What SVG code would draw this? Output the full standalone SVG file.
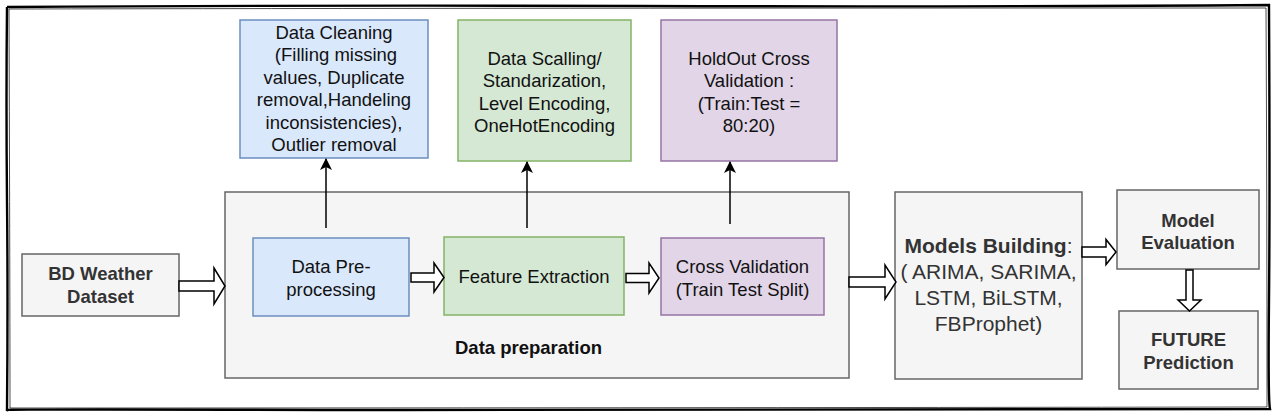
<svg xmlns="http://www.w3.org/2000/svg" width="1280" height="420" viewBox="0 0 1280 420">
<defs>
<marker id="ah" markerUnits="userSpaceOnUse" markerWidth="12" markerHeight="12" viewBox="0 0 12 12" refX="11" refY="6" orient="auto">
<path d="M0,0 L12,6 L0,12 L3,6 Z" fill="#000"/>
</marker>
</defs>
<style>
text{font-family:"Liberation Sans",Arial,sans-serif;text-anchor:middle}
.t{font-size:18.5px;fill:#111}
.b{font-size:18.5px;font-weight:bold;fill:#333}
.blue{fill:#dae8fc;stroke:#6c8ebf;stroke-width:1.5}
.green{fill:#d5e8d4;stroke:#82b366;stroke-width:1.5}
.purple{fill:#e1d5e7;stroke:#9673a6;stroke-width:1.5}
.gray{fill:#f5f5f5;stroke:#666;stroke-width:1.5}
.thin{stroke:#000;stroke-width:1.5;fill:none;marker-end:url(#ah)}
.block{fill:#fff;stroke:#000;stroke-width:1.5;stroke-linejoin:miter}
</style>
<rect width="1280" height="420" fill="#fff"/>
<g id="border" fill="none" stroke="#000">
<path d="M7,7 Q300,5 640,6 T1269,5 Q1270,200 1269,300 T1270,409 Q800,411 400,410 T7,410 Q8,300 7,200 T7,7" stroke-width="2.4"/>
<path d="M9,9 Q500,8 1266,8 Q1267,200 1267,407 Q600,408 10,408 Q10,300 9,9" stroke-width="1" stroke-opacity="0.7"/>
</g>
<g id="data-preparation">
<rect class="gray" x="225" y="192" width="624" height="186"/>
<text x="528.5" y="353.5" style="font-size:18.5px;font-weight:bold;fill:#111">Data preparation</text>
</g>
<g id="data-cleaning">
<rect class="blue" x="240" y="20" width="188" height="138"/>
<text class="t" x="334"><tspan x="334" y="38.5">Data Cleaning</tspan><tspan x="336" y="61">(Filling missing</tspan><tspan x="334" y="83.5">values, Duplicate</tspan><tspan x="334" y="106">removal,Handeling</tspan><tspan x="334" y="128.5">inconsistencies),</tspan><tspan x="334" y="151">Outlier removal</tspan></text>
</g>
<g id="data-scalling">
<rect class="green" x="458" y="20" width="173" height="141"/>
<text class="t"><tspan x="544.5" y="64.5">Data Scalling/</tspan><tspan x="544.5" y="87">Standarization,</tspan><tspan x="544.5" y="109.5">Level Encoding,</tspan><tspan x="544.5" y="132">OneHotEncoding</tspan></text>
</g>
<g id="holdout">
<rect class="purple" x="661" y="20" width="176" height="141"/>
<text class="t"><tspan x="749" y="64.5">HoldOut Cross</tspan><tspan x="749" y="87">Validation :</tspan><tspan x="749" y="109.5">(Train:Test =</tspan><tspan x="749" y="132">80:20)</tspan></text>
</g>
<g id="bd-weather">
<rect class="gray" x="22" y="254" width="157" height="62"/>
<text class="b"><tspan x="100.5" y="279.5">BD Weather</tspan><tspan x="100.5" y="303">Dataset</tspan></text>
</g>
<g id="pre-processing">
<rect class="blue" x="253" y="238" width="156" height="78"/>
<text class="t"><tspan x="331" y="272.5">Data Pre-</tspan><tspan x="331" y="295.5">processing</tspan></text>
</g>
<g id="feature-extraction">
<rect class="green" x="444" y="237" width="180" height="78"/>
<text class="t" x="534" y="282.5">Feature Extraction</text>
</g>
<g id="cross-validation">
<rect class="purple" x="661" y="238" width="163" height="77"/>
<text class="t"><tspan x="742.5" y="272.5">Cross Validation</tspan><tspan x="742.5" y="295.5">(Train Test Split)</tspan></text>
</g>
<g id="models-building">
<rect class="gray" x="895" y="192" width="187" height="187"/>
<text style="font-size:21px;fill:#333"><tspan x="988.5" y="253"><tspan font-weight="bold">Models Building</tspan>:</tspan><tspan x="988.5" y="279">( ARIMA, SARIMA,</tspan><tspan x="988.5" y="305">LSTM, BiLSTM,</tspan><tspan x="988.5" y="331">FBProphet)</tspan></text>
</g>
<g id="model-evaluation">
<rect class="gray" x="1117" y="190" width="142" height="79"/>
<text class="b"><tspan x="1188" y="226.5">Model</tspan><tspan x="1188" y="248.5">Evaluation</tspan></text>
</g>
<g id="future-prediction">
<rect class="gray" x="1119" y="311" width="139" height="78"/>
<text class="b"><tspan x="1188.5" y="345.5">FUTURE</tspan><tspan x="1188.5" y="368.5">Prediction</tspan></text>
</g>
<g id="connectors">
<line class="thin" x1="326" y1="228" x2="326" y2="159"/>
<line class="thin" x1="527" y1="228" x2="527" y2="162"/>
<line class="thin" x1="730" y1="224" x2="730" y2="162"/>
<polygon class="block" points="179,281 214,281 214,268 225,286 214,304 214,291 179,291"/>
<polygon class="block" points="411,273 434,273 434,263 444,277.5 434,292 434,282 411,282"/>
<polygon class="block" points="626,273.5 649,273.5 649,263 659,278 649,293 649,282.5 626,282.5"/>
<polygon class="block" points="849,277 885,277 885,265 896,282 885,299 885,287 849,287"/>
<polygon class="block" points="1082,247 1106,247 1106,239.5 1116,252 1106,264.5 1106,257 1082,257"/>
<polygon class="block" points="1186,270 1193,270 1193,300 1201,300 1189.5,311 1178,300 1186,300"/>
</g>
</svg>
